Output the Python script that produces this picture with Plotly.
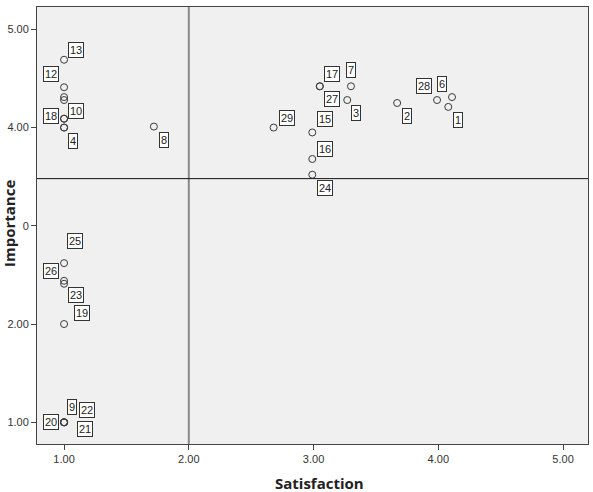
import plotly.graph_objects as go

# ---------------- data ----------------
ids = [1, 2, 3, 4, 5, 6, 7, 8, 9, 10, 11, 12, 13, 14, 15,
       16, 17, 18, 19, 20, 21, 22, 23, 24, 25, 26, 27, 28, 29]
satisfaction = [4.08, 3.67, 3.27, 1.00, 1.00, 4.11, 3.30, 1.72, 1.00, 1.00,
                1.00, 1.00, 1.00, 1.00, 2.99, 2.99, 3.05, 1.00, 1.00, 1.00,
                1.00, 1.00, 1.00, 2.99, 1.00, 1.00, 3.05, 3.99, 2.68]
importance = [4.21, 4.25, 4.28, 4.00, 4.00, 4.31, 4.42, 4.01, 1.00, 4.09,
              4.31, 4.41, 4.69, 4.28, 3.95, 3.68, 4.42, 4.09, 2.00, 1.00,
              1.00, 1.00, 2.41, 3.52, 2.62, 2.44, 4.42, 4.28, 4.00]
x_ticks = [1, 2, 3, 4, 5]
x_ticktext = ["1.00", "2.00", "3.00", "4.00", "5.00"]
y_ticks = [1, 2, 3, 4, 5]
y_ticktext = ["1.00", "2.00", "0", "4.00", "5.00"]
satisfaction_ref = 2.0
importance_ref = 3.48

# label offsets in pixels (dx right, dy down) - styling only
label_offset = {
    1: (10, 13), 2: (10, 13), 3: (9, 13), 4: (9, 13), 6: (-10, -13),
    7: (0, -16), 8: (10, 13), 9: (8, -15), 10: (12, -8), 12: (-13, -13),
    13: (12, -10), 15: (13, -13), 16: (13, -10), 17: (12, -12),
    18: (-13, -3), 19: (18, -11), 20: (-13, 0), 21: (21, 7), 22: (23, -12),
    23: (12, 11), 24: (13, 13), 25: (11, -22), 26: (-13, -10),
    27: (12, 13), 28: (-13, -14), 29: (13, -10),
}

W, H = 593, 492
ML, MR, MT, MB = 37, 5, 7, 48

fig = go.Figure()
fig.add_trace(go.Scatter(
    x=satisfaction, y=importance, mode="markers",
    marker=dict(symbol="circle-open", size=7, color="#3a3a3a",
                line=dict(width=1, color="#3a3a3a")),
    hoverinfo="skip", showlegend=False,
))

annotations = []
for i, sx, iy in zip(ids, satisfaction, importance):
    if i not in label_offset:
        continue
    dx, dy = label_offset[i]
    annotations.append(dict(
        x=sx, y=iy, xref="x", yref="y", text=str(i), showarrow=False,
        xshift=dx, yshift=-dy,
        font=dict(family="Liberation Sans, Arial", size=11, color="#222"),
        bgcolor="white", bordercolor="#333", borderwidth=1, borderpad=1,
    ))

pw = W - ML - MR
ph = H - MT - MB
annotations.append(dict(
    text="Satisfaction", xref="paper", yref="paper",
    x=(319 - ML) / pw, y=(H - MB - 483) / ph, xanchor="center", yanchor="middle",
    showarrow=False,
    font=dict(family="Open Sans", size=15, color="#222", weight="bold"),
))
annotations.append(dict(
    text="Importance", xref="paper", yref="paper",
    x=(9 - ML) / pw, y=(H - MB - 224) / ph, xanchor="center", yanchor="middle",
    textangle=-90, showarrow=False,
    font=dict(family="Open Sans", size=15, color="#222", weight="bold"),
))

shapes = [
    dict(type="line", xref="x", yref="paper", x0=satisfaction_ref, x1=satisfaction_ref,
         y0=0, y1=1, line=dict(color="#8a8a8a", width=2), layer="below"),
    dict(type="line", xref="paper", yref="y", x0=0, x1=1,
         y0=importance_ref, y1=importance_ref, line=dict(color="#111", width=1),
         layer="below"),
]

axis_common = dict(
    showgrid=False, zeroline=False, showline=True, mirror=True,
    linecolor="#444", linewidth=1, ticks="outside", ticklen=5,
    tickcolor="#444", tickwidth=1,
    tickfont=dict(family="Liberation Sans, Arial", size=11, color="#333"),
)

fig.update_layout(
    width=W, height=H,
    margin=dict(l=ML, r=MR, t=MT, b=MB),
    paper_bgcolor="white", plot_bgcolor="#f0f0f0",
    xaxis=dict(range=[0.783, 5.2], tickvals=x_ticks, ticktext=x_ticktext, **axis_common),
    yaxis=dict(range=[0.779, 5.227], tickvals=y_ticks, ticktext=y_ticktext, **axis_common),
    annotations=annotations, shapes=shapes,
)

fig.write_html("out.html")
